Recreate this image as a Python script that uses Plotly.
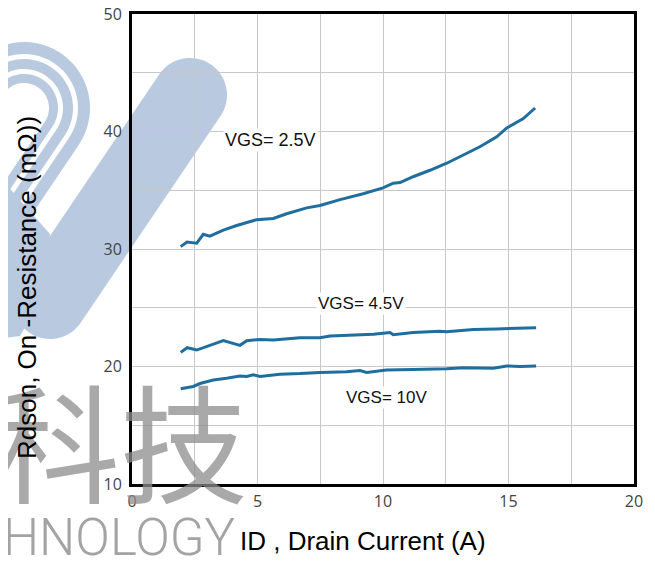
import numpy as np
import plotly.graph_objects as go

# Rds(on) vs drain current
id_25 = [1.94, 2.19, 2.58, 2.84, 3.10, 3.64, 4.17, 4.97, 5.63, 6.16, 6.96, 7.49, 8.29,
         9.21, 10.0, 10.41, 10.68, 11.2, 11.87, 12.54, 13.2, 13.86, 14.53, 14.93, 15.59, 16.06]
rds_25 = [30.2, 30.6, 30.5, 31.25, 31.1, 31.6, 32.0, 32.5, 32.6, 33.0, 33.5, 33.7, 34.2,
          34.7, 35.2, 35.6, 35.65, 36.15, 36.7, 37.3, 38.0, 38.7, 39.55, 40.3, 41.1, 42.0]

id_45 = [1.94, 2.2, 2.58, 2.97, 3.64, 4.3, 4.57, 5.1, 5.63, 6.69, 7.49, 7.89, 8.82, 9.62,
         10.28, 10.41, 11.2, 12.27, 12.54, 13.6, 14.53, 15.46, 15.72, 16.1]
rds_45 = [21.2, 21.6, 21.4, 21.7, 22.2, 21.8, 22.2, 22.3, 22.25, 22.45, 22.45, 22.6, 22.7, 22.75,
          22.9, 22.7, 22.9, 23.0, 22.95, 23.15, 23.2, 23.25, 23.3, 23.3]

id_10 = [1.94, 2.44, 2.71, 3.24, 3.77, 4.3, 4.57, 4.83, 5.1, 5.9, 6.69, 7.49, 8.55, 9.08,
         9.35, 10.14, 11.2, 12.54, 13.2, 14.4, 14.93, 15.46, 16.1]
rds_10 = [18.1, 18.3, 18.55, 18.85, 19.0, 19.2, 19.15, 19.3, 19.15, 19.35, 19.4, 19.5, 19.55, 19.65,
          19.5, 19.7, 19.75, 19.8, 19.9, 19.85, 20.05, 20.0, 20.05]

curve_labels = ["VGS= 2.5V", "VGS= 4.5V", "VGS= 10V"]
label_x = [5.5, 9.12, 10.12]
label_y = [39.3, 25.4, 17.4]
label_size = [18, 17, 17]

x_ticks = [0, 5, 10, 15, 20]
y_ticks = [10, 20, 30, 40, 50]

LINE = "#1F6E9E"
WM_BLUE = "#B8C9E0"
GRID = "#C8C8C8"

# page has an 8px body margin, so the figure is drawn 8px in from the corner
OFF = 8
W, H = 655 - OFF, 562 - OFF
PX0, PY0, PW, PH = 132, 14, 502, 470   # plot box in page pixels
L, T = PX0 - OFF, PY0 - OFF
R, B = W - L - PW, H - T - PH


def to_paper(x, y):
    return (x - PX0) / PW, (PY0 + PH - y) / PH


def path_from(points):
    pts = [to_paper(x, y) for x, y in points]
    return "M " + " L ".join(f"{x:.5f},{y:.5f}" for x, y in pts) + " Z"


def stadium(c0, c1, r, n=36):
    c0, c1 = np.array(c0, float), np.array(c1, float)
    d = (c1 - c0) / np.linalg.norm(c1 - c0)
    a = np.arctan2(d[1], d[0])
    pts = []
    for t in np.linspace(a + np.pi / 2, a + 3 * np.pi / 2, n):
        pts.append(c0 + r * np.array([np.cos(t), np.sin(t)]))
    for t in np.linspace(a - np.pi / 2, a + np.pi / 2, n):
        pts.append(c1 + r * np.array([np.cos(t), np.sin(t)]))
    return pts


# background logo watermark (page pixel coords)
shapes = []
arch_c = (24, 108)
arch_end = (24 - 0.56 * 220, 108 + 0.83 * 220)
for rad, col in [(66, WM_BLUE), (54, "white"), (49, WM_BLUE), (39, "white"), (34, WM_BLUE), (25, "white")]:
    shapes.append(dict(type="path", path=path_from(stadium(arch_c, arch_end, rad)),
                       xref="paper", yref="paper", fillcolor=col, line_width=0, layer="below"))
shapes.append(dict(type="path", path=path_from(stadium((190, 95), (50, 302), 37)),
                   xref="paper", yref="paper", fillcolor=WM_BLUE, line_width=0, layer="below"))
shapes.append(dict(type="path", path=path_from([(-10, 166), (50, 234), (40, 300), (20, 336), (-10, 340)]),
                   xref="paper", yref="paper", fillcolor=WM_BLUE, line_width=0, layer="below"))

fig = go.Figure()
for xs, ys in [(id_25, rds_25), (id_45, rds_45), (id_10, rds_10)]:
    fig.add_scatter(x=xs, y=ys, mode="lines", line=dict(color=LINE, width=3),
                    hoverinfo="x+y", showlegend=False)

annotations = []
for txt, lx, ly, fs in zip(curve_labels, label_x, label_y, label_size):
    annotations.append(dict(x=lx, y=ly, text=txt, showarrow=False, bgcolor="white",
                            xanchor="center", yanchor="middle",
                            font=dict(family="Liberation Sans, Arial", size=fs, color="#111")))

# watermark text
annotations.append(dict(x=to_paper(120, 0)[0], y=to_paper(0, 438)[1], xref="paper", yref="paper",
                        text="科技", showarrow=False, xanchor="center", yanchor="middle",
                        font=dict(family="Noto Sans CJK SC", size=128, color="rgba(140,140,140,0.75)")))
annotations.append(dict(x=to_paper(237, 0)[0], y=to_paper(0, 537)[1], xref="paper", yref="paper",
                        text="HNOLOGY", showarrow=False, xanchor="right", yanchor="middle",
                        font=dict(family="Roboto, Liberation Sans", size=51, weight=300,
                                  color="rgba(140,140,140,0.8)")))

# axis titles
annotations.append(dict(x=to_paper(27, 0)[0], y=to_paper(0, 288)[1], xref="paper", yref="paper",
                        text="Rdson, On -Resistance (mΩ))", textangle=-90, showarrow=False,
                        xanchor="center", yanchor="middle",
                        font=dict(family="Liberation Sans, Arial", size=26, color="black")))
annotations.append(dict(x=to_paper(363, 0)[0], y=to_paper(0, 541)[1], xref="paper", yref="paper",
                        text="ID , Drain Current (A)", showarrow=False,
                        xanchor="center", yanchor="middle",
                        font=dict(family="Liberation Sans, Arial", size=26, color="black")))

fig.update_layout(
    width=W, height=H, autosize=False,
    margin=dict(l=L, r=R, t=T, b=B),
    paper_bgcolor="white",
    plot_bgcolor="rgba(0,0,0,0)",
    shapes=shapes,
    annotations=annotations,
    xaxis=dict(range=[0, 20], tickvals=x_ticks, showgrid=True, gridcolor=GRID, gridwidth=1,
               minor=dict(dtick=2.5, showgrid=True, gridcolor=GRID, gridwidth=1),
               showline=True, linecolor="black", linewidth=3, mirror=True, zeroline=False,
               ticks="", ticklabelstandoff=1, automargin=False, ticklabeloverflow="allow",
               tickfont=dict(family="Open Sans", size=16, color="#444")),
    yaxis=dict(range=[10, 50], tickvals=y_ticks, showgrid=True, gridcolor=GRID, gridwidth=1,
               minor=dict(dtick=5, showgrid=True, gridcolor=GRID, gridwidth=1),
               showline=True, linecolor="black", linewidth=3, mirror=True, zeroline=False,
               ticks="", ticklabelstandoff=4, automargin=False, ticklabeloverflow="allow",
               tickfont=dict(family="Open Sans", size=16, color="#444")),
)

fig.write_html("out.html")
